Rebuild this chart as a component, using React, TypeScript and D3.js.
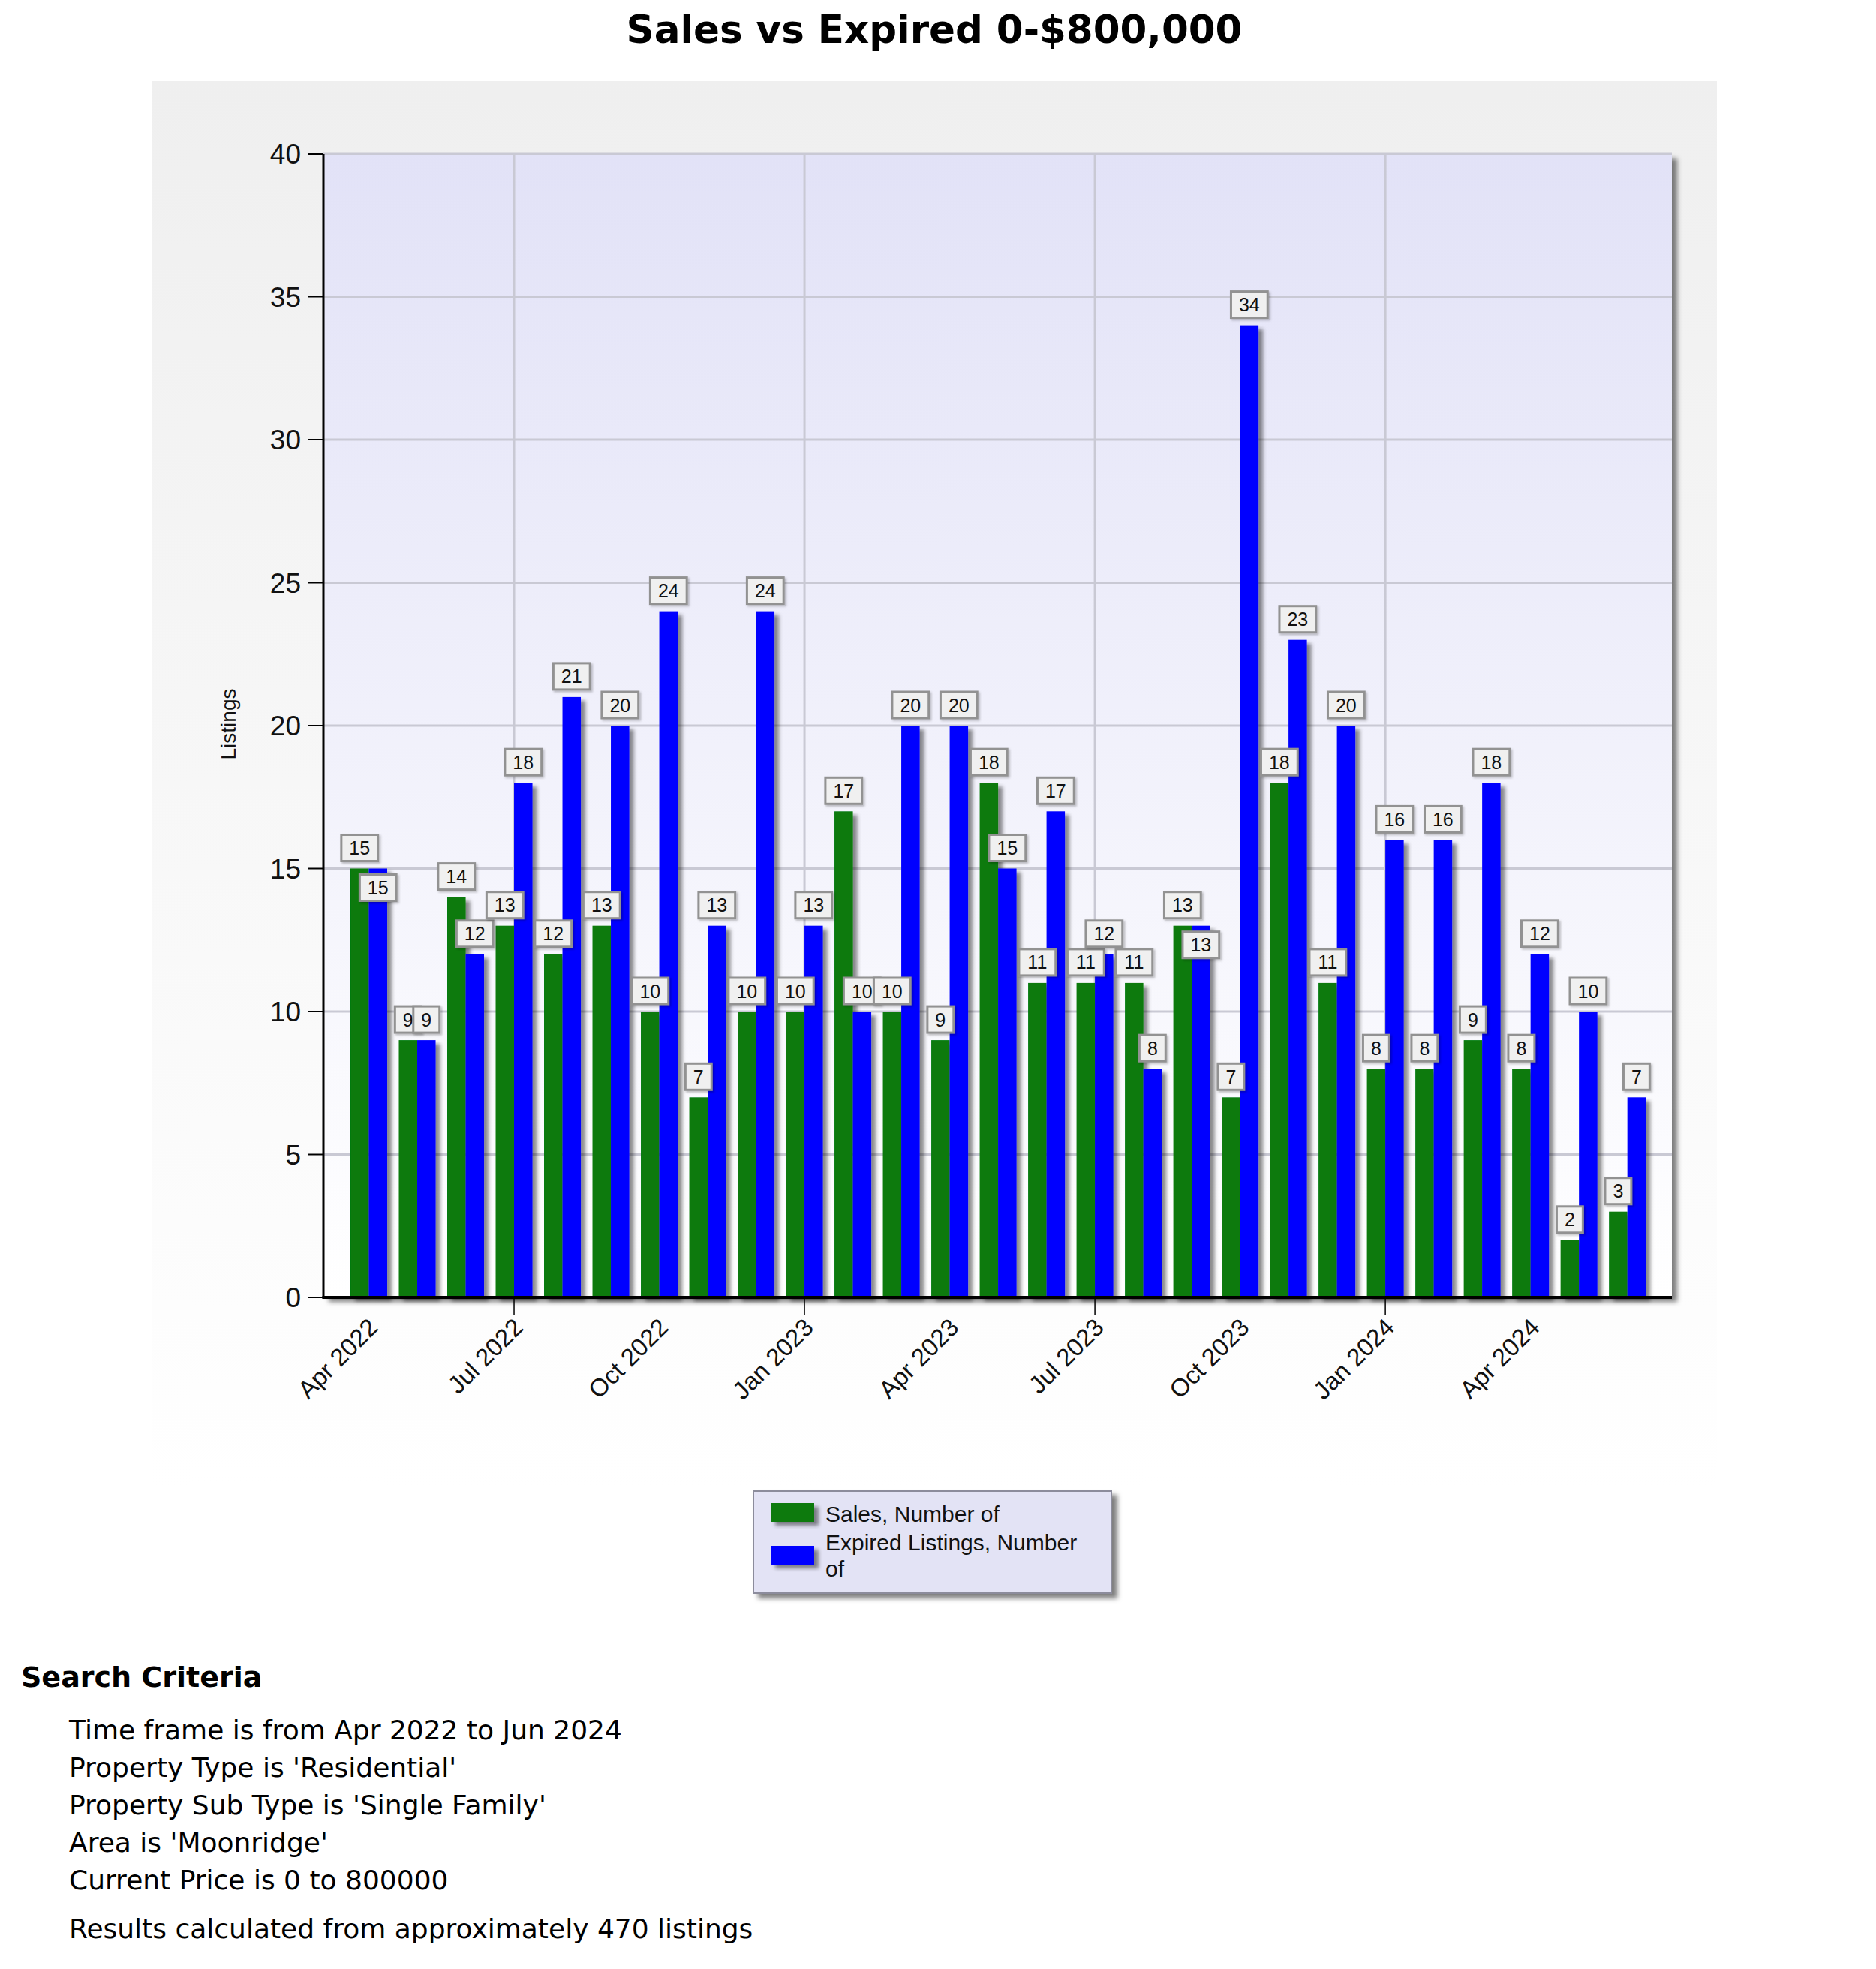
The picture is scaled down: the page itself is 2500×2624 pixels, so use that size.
import React, { useEffect, useRef } from 'react';
import * as d3 from 'd3';

// monthly categories, Apr 2022 .. Jun 2024
const months = [
  'Apr 2022', 'May 2022', 'Jun 2022', 'Jul 2022', 'Aug 2022', 'Sep 2022', 'Oct 2022', 'Nov 2022', 'Dec 2022',
  'Jan 2023', 'Feb 2023', 'Mar 2023', 'Apr 2023', 'May 2023', 'Jun 2023', 'Jul 2023', 'Aug 2023', 'Sep 2023',
  'Oct 2023', 'Nov 2023', 'Dec 2023', 'Jan 2024', 'Feb 2024', 'Mar 2024', 'Apr 2024', 'May 2024', 'Jun 2024',
];
const sales = [15, 9, 14, 13, 12, 13, 10, 7, 10, 10, 17, 10, 9, 18, 11, 11, 11, 13, 7, 18, 11, 8, 8, 9, 8, 2, 3];
const expired = [15, 9, 12, 18, 21, 20, 24, 13, 24, 13, 10, 20, 20, 15, 17, 12, 8, 13, 34, 23, 20, 16, 16, 18, 12, 10, 7];

const xTickLabels = ['Apr 2022', 'Jul 2022', 'Oct 2022', 'Jan 2023', 'Apr 2023', 'Jul 2023', 'Oct 2023', 'Jan 2024', 'Apr 2024'];
const xGridMonths = ['Jul 2022', 'Jan 2023', 'Jul 2023', 'Jan 2024'];
const yTicks = [0, 5, 10, 15, 20, 25, 30, 35, 40];

const seriesNames = ['Sales, Number of', 'Expired Listings, Number of'];
const seriesColors = ['#077a0b', '#0000ff'];
const legendLines = [['Sales, Number of'], ['Expired Listings, Number', 'of']];

const title = 'Sales vs Expired 0-$800,000';
const criteriaHeading = 'Search Criteria';
const criteria = [
  'Time frame is from Apr 2022 to Jun 2024',
  "Property Type is 'Residential'",
  "Property Sub Type is 'Single Family'",
  "Area is 'Moonridge'",
  'Current Price is 0 to 800000',
];
const footnote = 'Results calculated from approximately 470 listings';

const W = 2500;
const H = 2624;
const ARIAL = '"Liberation Sans", Arial, sans-serif';
const VERDANA = '"DejaVu Sans", Verdana, sans-serif';

const App: React.FC = () => {
  const ref = useRef<SVGSVGElement | null>(null);

  useEffect(() => {
    const svg = d3.select(ref.current);
    svg.selectAll('*').remove();

    const plot = { left: 431, right: 2228, top: 205, bottom: 1729 };
    const barW = 24.5;

    const x = d3.scaleLinear().domain([-0.938, 26.92]).range([plot.left, plot.right]);
    const y = d3.scaleLinear().domain([0, 40]).range([plot.bottom, plot.top]);

    const defs = svg.append('defs');
    const panelGrad = defs.append('linearGradient').attr('id', 'panelGrad')
      .attr('x1', 0).attr('y1', 0).attr('x2', 0).attr('y2', 1);
    panelGrad.append('stop').attr('offset', '0%').attr('stop-color', '#efefef');
    panelGrad.append('stop').attr('offset', '100%').attr('stop-color', '#ffffff');

    const areaGrad = defs.append('linearGradient').attr('id', 'areaGrad')
      .attr('x1', 0).attr('y1', 0).attr('x2', 0).attr('y2', 1);
    areaGrad.append('stop').attr('offset', '0%').attr('stop-color', '#e2e2f7');
    areaGrad.append('stop').attr('offset', '100%').attr('stop-color', '#ffffff');

    const shadow = defs.append('filter').attr('id', 'shadow')
      .attr('x', '-20%').attr('y', '-20%').attr('width', '160%').attr('height', '160%');
    shadow.append('feDropShadow').attr('dx', 6).attr('dy', 5).attr('stdDeviation', 2.5)
      .attr('flood-color', '#000').attr('flood-opacity', 0.45);

    const boxShadow = defs.append('filter').attr('id', 'boxShadow')
      .attr('x', '-10%').attr('y', '-10%').attr('width', '130%').attr('height', '130%');
    boxShadow.append('feDropShadow').attr('dx', 7).attr('dy', 6).attr('stdDeviation', 3)
      .attr('flood-color', '#000').attr('flood-opacity', 0.5);

    const lblShadow = defs.append('filter').attr('id', 'lblShadow')
      .attr('x', '-20%').attr('y', '-20%').attr('width', '150%').attr('height', '150%');
    lblShadow.append('feDropShadow').attr('dx', 2).attr('dy', 2).attr('stdDeviation', 1.5)
      .attr('flood-color', '#000').attr('flood-opacity', 0.25);

    // page background
    svg.append('rect').attr('width', W).attr('height', H).attr('fill', '#ffffff');

    // title
    svg.append('text').attr('x', 1245).attr('y', 57).attr('text-anchor', 'middle')
      .attr('font-family', VERDANA).attr('font-weight', 'bold').attr('font-size', 51.5)
      .text(title);

    // chart panel
    svg.append('rect').attr('x', 203).attr('y', 108).attr('width', 2085).attr('height', 1875)
      .attr('fill', 'url(#panelGrad)');

    // plot area
    svg.append('rect').attr('x', plot.left).attr('y', plot.top)
      .attr('width', plot.right - plot.left).attr('height', plot.bottom - plot.top)
      .attr('fill', 'url(#areaGrad)').attr('filter', 'url(#boxShadow)');

    // grid
    svg.append('g').selectAll('line').data(yTicks.filter(t => t > 0)).join('line')
      .attr('x1', plot.left).attr('x2', plot.right)
      .attr('y1', d => y(d)).attr('y2', d => y(d))
      .attr('stroke', '#c9c9d4').attr('stroke-width', 3);
    svg.append('g').selectAll('line').data(xGridMonths).join('line')
      .attr('x1', d => x(months.indexOf(d))).attr('x2', d => x(months.indexOf(d)))
      .attr('y1', plot.top).attr('y2', plot.bottom)
      .attr('stroke', '#c9c9d4').attr('stroke-width', 3);

    // bars
    const bars = svg.append('g').attr('filter', 'url(#shadow)');
    bars.selectAll('rect.sales').data(sales).join('rect').attr('class', 'sales')
      .attr('x', (_, i) => x(i) - barW).attr('width', barW)
      .attr('y', d => y(d)).attr('height', d => y(0) - y(d))
      .attr('fill', seriesColors[0]);
    bars.selectAll('rect.expired').data(expired).join('rect').attr('class', 'expired')
      .attr('x', (_, i) => x(i)).attr('width', barW)
      .attr('y', d => y(d)).attr('height', d => y(0) - y(d))
      .attr('fill', seriesColors[1]);

    // axes
    const axisG = svg.append('g');
    axisG.append('line').attr('x1', plot.left).attr('x2', plot.left)
      .attr('y1', plot.top).attr('y2', plot.bottom + 1.5).attr('stroke', '#000').attr('stroke-width', 3);
    axisG.append('line').attr('x1', plot.left - 1.5).attr('x2', plot.right)
      .attr('y1', plot.bottom).attr('y2', plot.bottom).attr('stroke', '#000').attr('stroke-width', 4);

    axisG.selectAll('line.ytick').data(yTicks).join('line').attr('class', 'ytick')
      .attr('x1', plot.left - 20).attr('x2', plot.left)
      .attr('y1', d => y(d)).attr('y2', d => y(d))
      .attr('stroke', '#000').attr('stroke-width', 2);
    axisG.selectAll('text.ylab').data(yTicks).join('text').attr('class', 'ylab')
      .attr('x', plot.left - 30).attr('y', d => y(d)).attr('dy', '0.36em')
      .attr('text-anchor', 'end').attr('font-family', ARIAL).attr('font-size', 37)
      .attr('fill', '#111').text(d => d);

    axisG.selectAll('line.xtick').data(xGridMonths).join('line').attr('class', 'xtick')
      .attr('x1', d => x(months.indexOf(d))).attr('x2', d => x(months.indexOf(d)))
      .attr('y1', plot.bottom).attr('y2', plot.bottom + 24)
      .attr('stroke', '#000').attr('stroke-width', 1.5);
    axisG.selectAll('text.xlab').data(xTickLabels).join('text').attr('class', 'xlab')
      .attr('transform', d => `translate(${x(months.indexOf(d)) + 14},${plot.bottom + 42}) rotate(-45)`)
      .attr('text-anchor', 'end').attr('font-family', ARIAL).attr('font-size', 33)
      .attr('fill', '#111').text(d => d);

    svg.append('text')
      .attr('transform', `translate(314,965) rotate(-90)`)
      .attr('text-anchor', 'middle').attr('font-family', ARIAL).attr('font-size', 28)
      .attr('fill', '#111').text('Listings');

    // value labels, the expired label drops inside its bar when it would cover the sales label
    const fs = 25;
    const boxH = 35;
    type Box = { cx: number; top: number; w: number; v: number };
    const boxes: Box[] = [];
    const mkBox = (cx: number, v: number): Box => {
      const w = String(v).length * fs * 0.556 + 21;
      return { cx, top: y(v) - 10 - boxH, w, v };
    };
    const overlaps = (a: Box, b: Box) =>
      Math.abs(a.cx - b.cx) < (a.w + b.w) / 2 - 12 && Math.abs(a.top - b.top) < boxH;
    sales.forEach((s, i) => {
      const g = mkBox(x(i) - barW / 2, s);
      const b = mkBox(x(i) + barW / 2, expired[i]);
      if (overlaps(g, b)) b.top = y(expired[i]) + 8;
      boxes.push(g, b);
    });
    const lbl = svg.append('g');
    const lg = lbl.selectAll('g').data(boxes).join('g');
    lg.append('rect')
      .attr('x', d => d.cx - d.w / 2).attr('y', d => d.top)
      .attr('width', d => d.w).attr('height', boxH)
      .attr('fill', '#f0f0f0').attr('stroke', '#929292').attr('stroke-width', 3)
      .attr('filter', 'url(#lblShadow)');
    lg.append('text')
      .attr('x', d => d.cx).attr('y', d => d.top + boxH / 2).attr('dy', '0.36em')
      .attr('text-anchor', 'middle').attr('font-family', ARIAL).attr('font-size', fs)
      .attr('fill', '#111').text(d => d.v);

    // legend
    const leg = svg.append('g');
    leg.append('rect').attr('x', 1004).attr('y', 1987).attr('width', 477).attr('height', 136)
      .attr('fill', '#e3e3f5').attr('stroke', '#8c8c9c').attr('stroke-width', 2)
      .attr('filter', 'url(#boxShadow)');
    seriesNames.forEach((name, i) => {
      const sy = 2003 + i * 57;
      leg.append('rect').attr('x', 1027).attr('y', sy).attr('width', 58).attr('height', 25)
        .attr('fill', seriesColors[i]).attr('filter', 'url(#shadow)')
        .append('title').text(name);
      legendLines[i].forEach((line, j) => {
        leg.append('text').attr('x', 1100).attr('y', 2017 + i * 38 + j * 35).attr('dy', '0.36em')
          .attr('font-family', ARIAL).attr('font-size', 30).attr('fill', '#111').text(line);
      });
    });

    // search criteria
    svg.append('text').attr('x', 28).attr('y', 2248)
      .attr('font-family', VERDANA).attr('font-weight', 'bold').attr('font-size', 38)
      .text(criteriaHeading);
    svg.append('g').selectAll('text').data(criteria).join('text')
      .attr('x', 92).attr('y', (_, i) => 2318 + i * 50)
      .attr('font-family', VERDANA).attr('font-size', 36).text(d => d);
    svg.append('text').attr('x', 92).attr('y', 2583)
      .attr('font-family', VERDANA).attr('font-size', 36).text(footnote);
  }, []);

  return (
    <svg ref={ref} width={W} height={H}
      style={{ position: 'absolute', left: 0, top: 0, display: 'block' }} />
  );
};

export default App;
